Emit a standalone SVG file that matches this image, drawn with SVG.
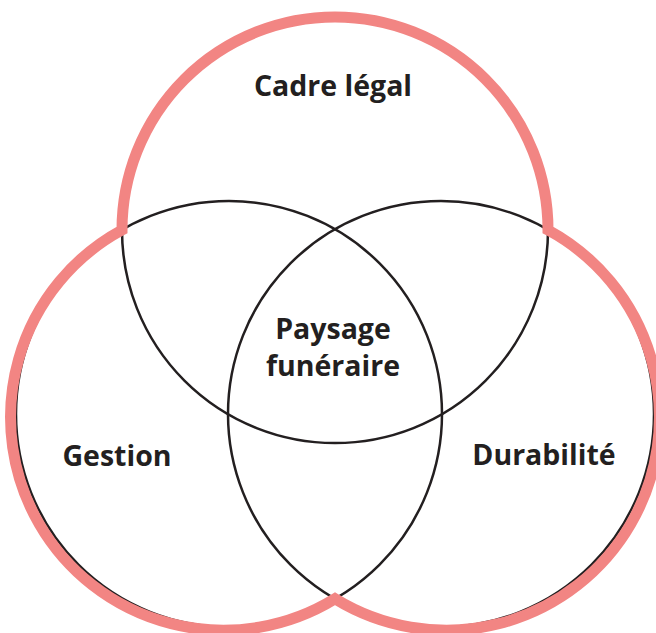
<svg xmlns="http://www.w3.org/2000/svg" width="656" height="633" viewBox="0 0 656 633">
  <style>
    .ring { fill: none; stroke: #231F20; stroke-width: 2.5; }
    .outline { fill: none; stroke: #F28583; stroke-width: 11; stroke-linejoin: miter; }
    .label { font-family: "Open Sans", "Liberation Sans", sans-serif; font-weight: 700; font-size: 28.5px; fill: #231F20; text-anchor: middle; }
  </style>
  <rect width="656" height="633" fill="#FFFFFF"/>

  <!-- thin inner circles; their outer parts are hidden under the thick outline -->
  <g id="connectors">
    <circle class="ring" cx="335" cy="230" r="213"/>
    <circle class="ring" cx="229" cy="414" r="213"/>
    <circle class="ring" cx="441" cy="414" r="213"/>
    <!-- outer boundary of the union of the three circles -->
    <path class="outline" d="M122,230 A213,213 0 0 1 548,230 A213,213 0 1 1 335,598.75 A213,213 0 1 1 122,230 Z"/>
  </g>

  <g id="cadre-legal">
    <text class="label" x="333" y="96">Cadre légal</text>
  </g>
  <g id="gestion">
    <text class="label" x="117" y="466">Gestion</text>
  </g>
  <g id="durabilite">
    <text class="label" x="544" y="465">Durabilité</text>
  </g>
  <g id="paysage-funeraire">
    <text class="label" x="333" y="339">Paysage</text>
    <text class="label" x="333" y="376">funéraire</text>
  </g>
</svg>
